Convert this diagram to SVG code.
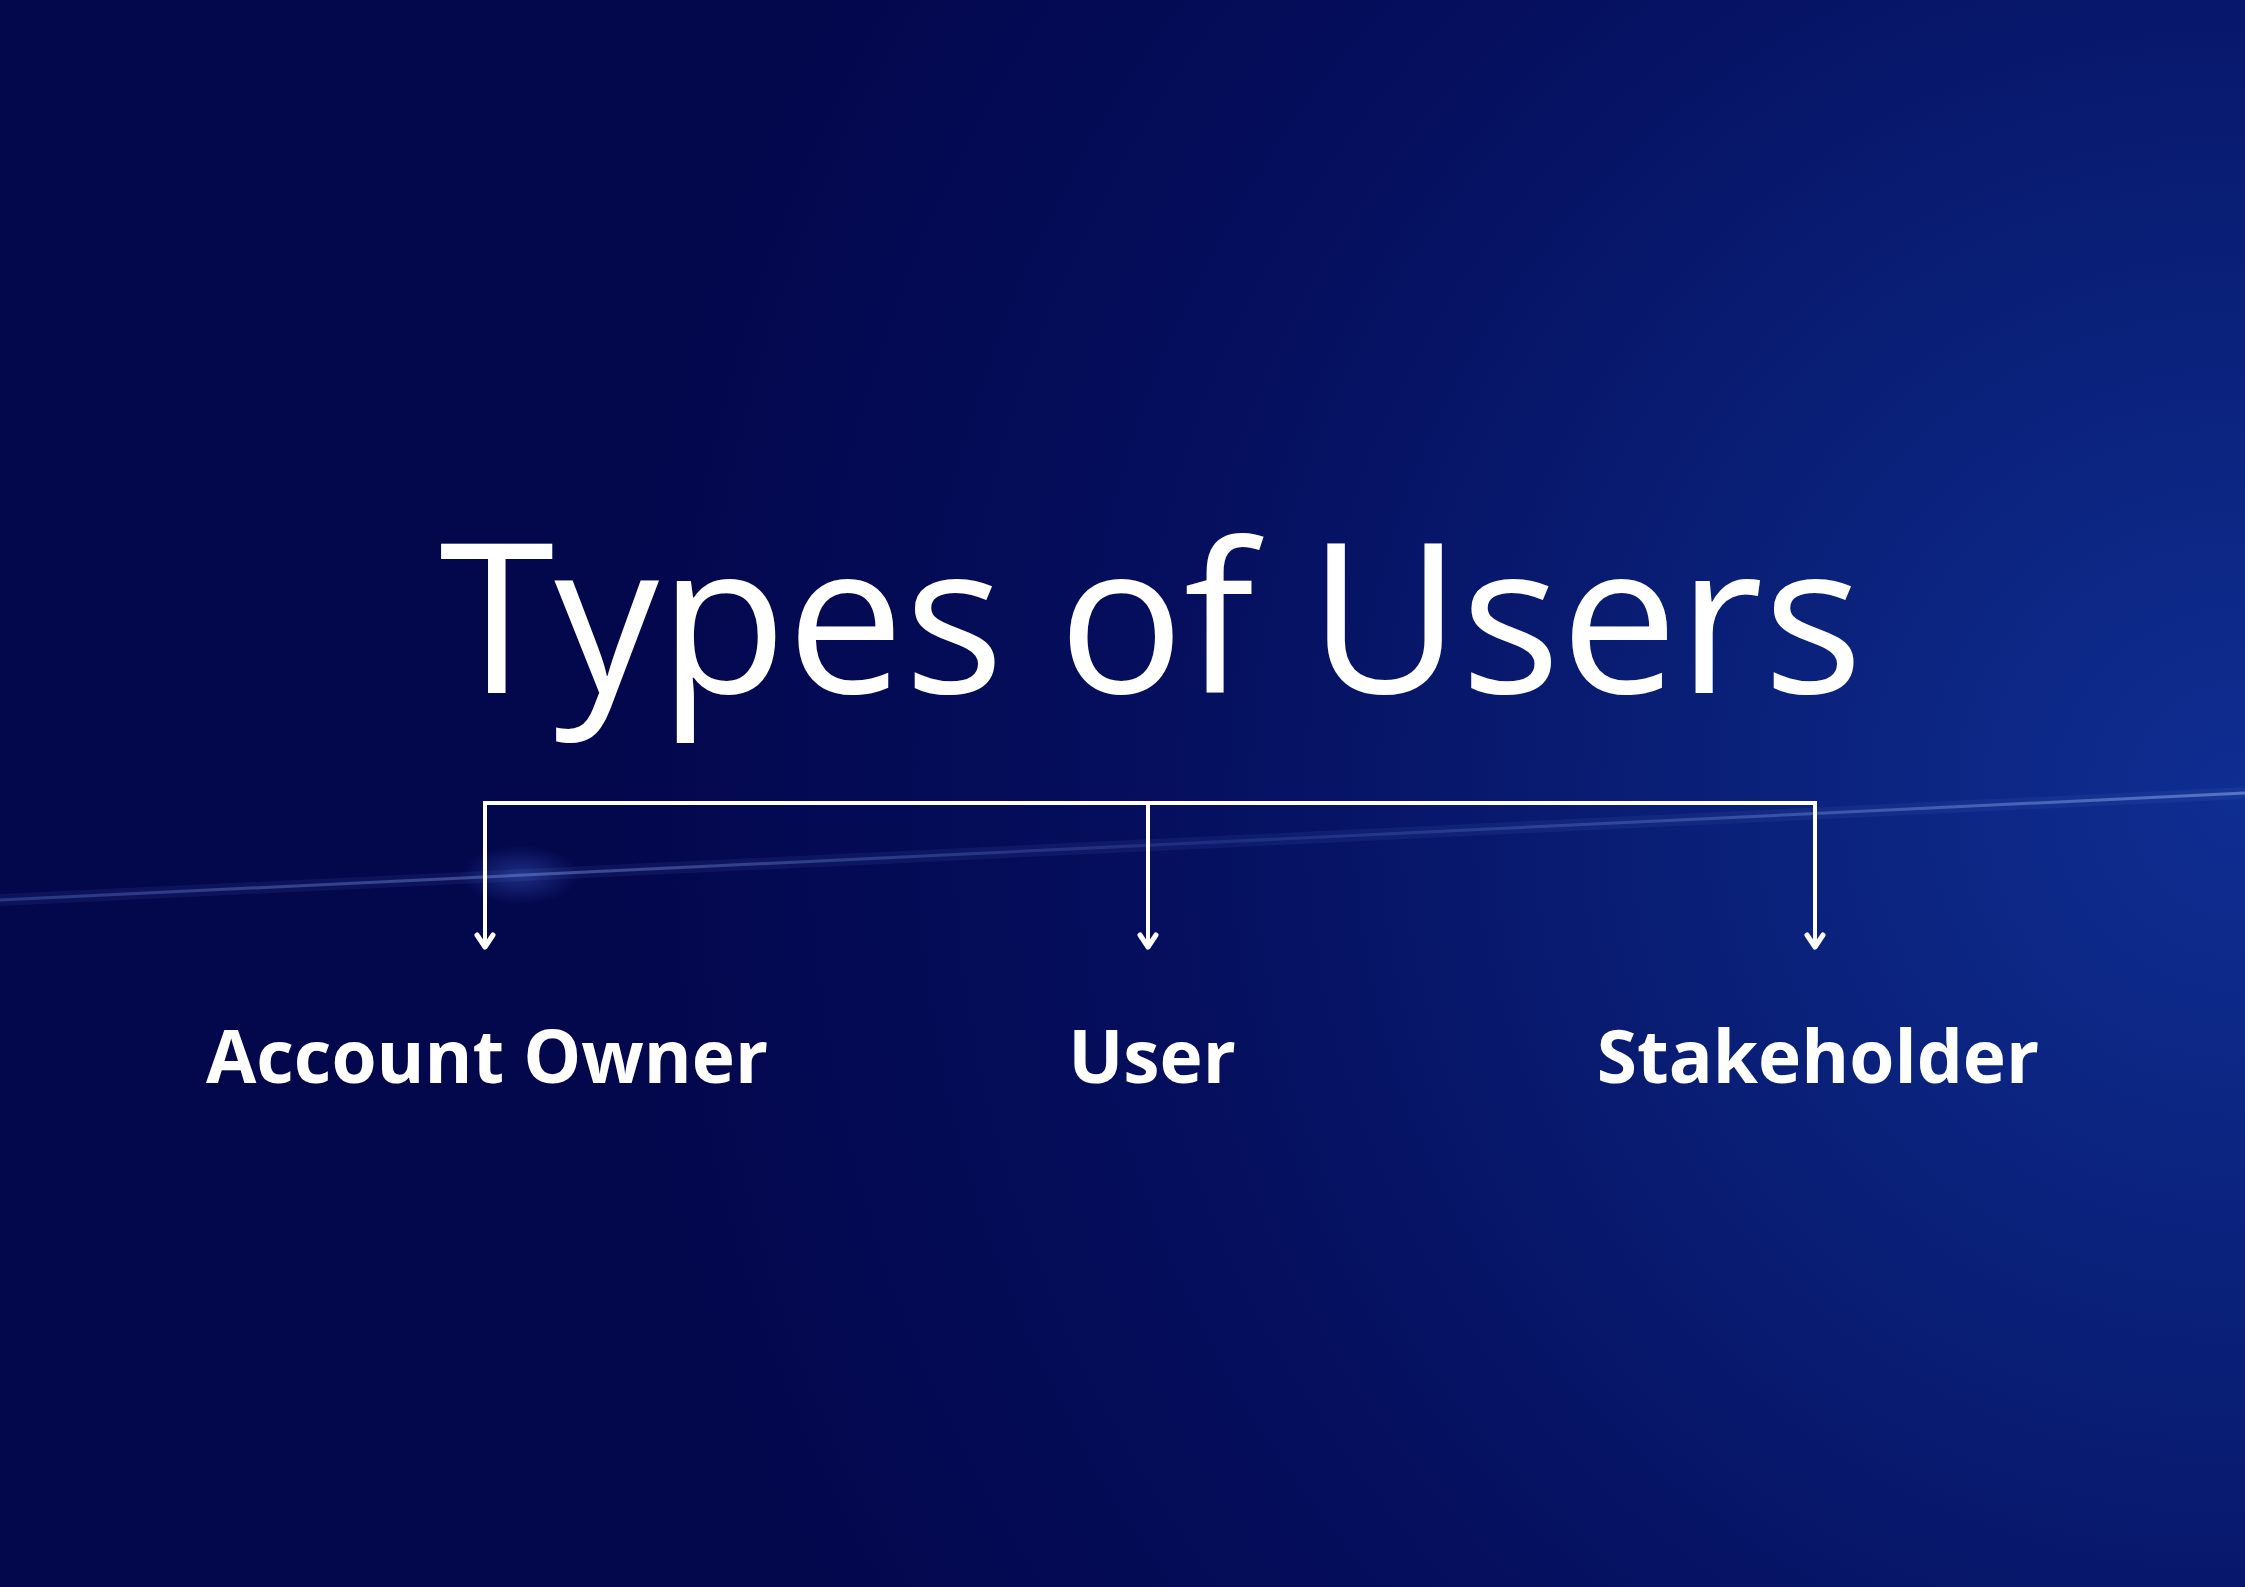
<svg xmlns="http://www.w3.org/2000/svg" width="2245" height="1587" viewBox="0 0 2245 1587">
  <defs>
    <radialGradient id="bg" cx="2245" cy="800" r="1650" gradientUnits="userSpaceOnUse">
      <stop offset="0" stop-color="#0f2e92"/>
      <stop offset="0.3" stop-color="#0a217a"/>
      <stop offset="0.65" stop-color="#050f5e"/>
      <stop offset="1" stop-color="#03074c"/>
    </radialGradient>
    <linearGradient id="streak" x1="0" y1="0" x2="2245" y2="0" gradientUnits="userSpaceOnUse">
      <stop offset="0" stop-color="#6f8ee0" stop-opacity="0.3"/>
      <stop offset="0.25" stop-color="#8aa6ee" stop-opacity="0.4"/>
      <stop offset="0.55" stop-color="#6f8ee0" stop-opacity="0.15"/>
      <stop offset="0.9" stop-color="#9ab6f5" stop-opacity="0.4"/>
      <stop offset="1" stop-color="#b0c8ff" stop-opacity="0.45"/>
    </linearGradient>
    <radialGradient id="glow" cx="0.5" cy="0.5" r="0.5">
      <stop offset="0" stop-color="#3c5cc8" stop-opacity="0.45"/>
      <stop offset="1" stop-color="#3c5cc8" stop-opacity="0"/>
    </radialGradient>
    <style>
      .title { font-family: "Open Sans", "Noto Sans", "DejaVu Sans", sans-serif; font-size: 209px; fill: #ffffff; text-anchor: middle; }
      .label { font-family: "Open Sans", "Noto Sans", "DejaVu Sans", sans-serif; font-size: 73px; font-weight: 700; fill: #ffffff; text-anchor: middle; }
      .conn { fill: none; stroke: #ffffff; stroke-width: 4; }
      .head { fill: none; stroke: #ffffff; stroke-width: 5; stroke-linejoin: round; stroke-linecap: round; }
    </style>
  </defs>

  <rect x="0" y="0" width="2245" height="1587" fill="url(#bg)"/>
  <ellipse cx="520" cy="875" rx="60" ry="30" fill="url(#glow)"/>
  <path d="M0,900 L2245,793" stroke="url(#streak)" stroke-width="3" fill="none"/>
  <path d="M0,900 L2245,793" stroke="#5f80d8" stroke-opacity="0.1" stroke-width="12" fill="none"/>

  <g id="title">
    <text class="title" x="1151" y="693">Types of Users</text>
  </g>

  <g id="connectors">
    <path class="conn" d="M485,946 L485,803 L1815,803 L1815,946"/>
    <path class="conn" d="M1148,803 L1148,946"/>
    <path class="head" d="M477,935 L485,947 L493,935"/>
    <path class="head" d="M1140,935 L1148,947 L1156,935"/>
    <path class="head" d="M1807,935 L1815,947 L1823,935"/>
  </g>

  <g id="node-account-owner">
    <text class="label" x="487" y="1083">Account Owner</text>
  </g>
  <g id="node-user">
    <text class="label" x="1152" y="1083">User</text>
  </g>
  <g id="node-stakeholder">
    <text class="label" x="1818" y="1083">Stakeholder</text>
  </g>
</svg>
